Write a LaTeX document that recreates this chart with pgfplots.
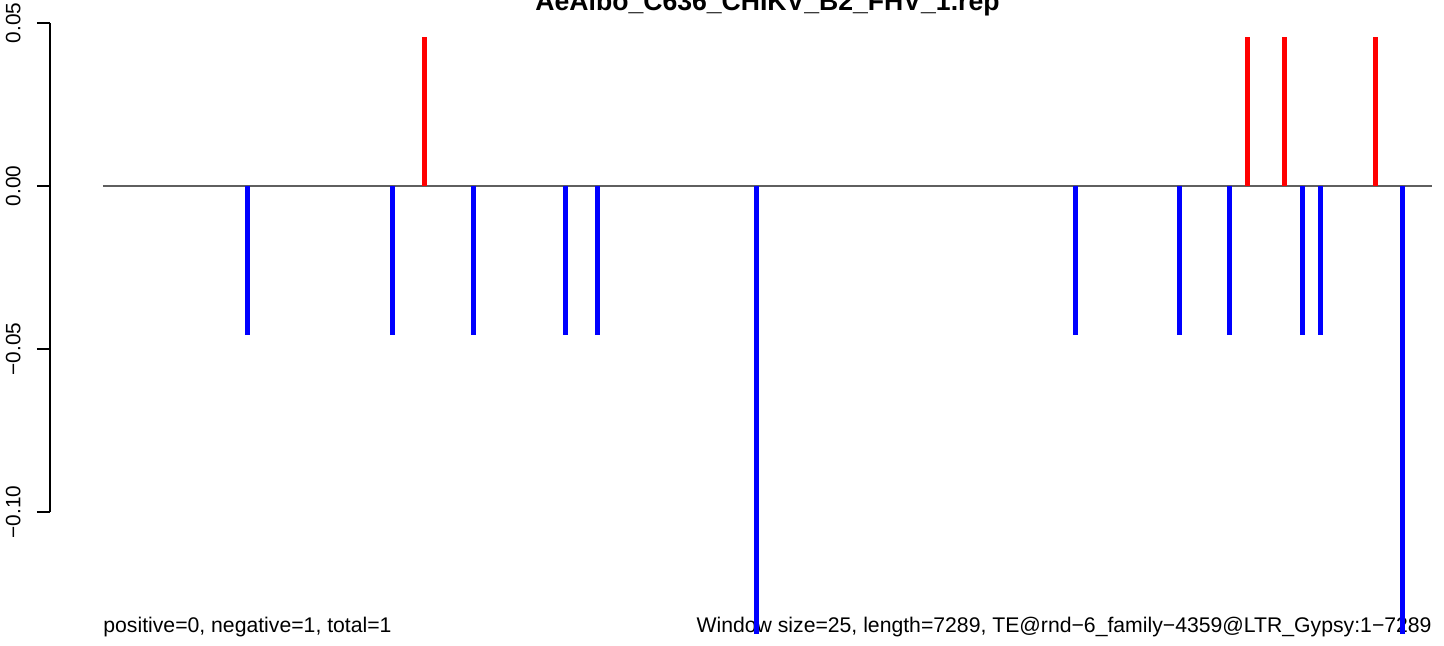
\documentclass[border=0pt]{standalone}
\usepackage{fontspec}
\setmainfont{Liberation Sans}
\usepackage{pgfplots}
\pgfplotsset{compat=1.18}
\definecolor{zl}{RGB}{95,95,95}
\definecolor{rblue}{RGB}{0,0,255}
\definecolor{rred}{RGB}{255,0,0}
\begin{document}
\begin{tikzpicture}
\useasboundingbox (0,0) rectangle (722pt,323pt);
\node[font=\bfseries\fontsize{13.3}{16}\selectfont, anchor=base, inner sep=0pt] at (383.75pt,317.5pt) {AeAlbo\_C636\_CHIKV\_B2\_FHV\_1.rep};
\node[font=\fontsize{10.6}{12}\selectfont, anchor=base west, inner sep=0pt] at (51.5pt,6.5pt) {positive=0, negative=1, total=1};
\node[font=\fontsize{10.6}{12}\selectfont, anchor=base east, inner sep=0pt] at (716pt,6.5pt) {Window size=25, length=7289, TE@rnd−6\_family−4359@LTR\_Gypsy:1−7289};
\begin{axis}[
  at={(25pt,1.8pt)}, anchor=south west,
  scale only axis, width=691pt, height=309.7pt,
  xmin=-289.6, xmax=7289, ymin=-0.14, ymax=0.05,
  clip=false,
  axis x line=none,
  axis y line=left,
  y axis line style={draw=none},
  ytick={-0.1,-0.05,0,0.05},
  yticklabels={−0.10,−0.05,0.00,0.05},
  tick align=outside,
  major tick length=6.5pt,
  ytick style={black, line width=0.6pt},
  yticklabel style={font=\fontsize{10.4}{12}\selectfont, xshift=-8pt, rotate=90, anchor=south, inner sep=0pt},
]
\addplot[black, line width=0.6pt] coordinates {(-289.6,-0.1) (-289.6,0.05)};
\addplot[zl, line width=0.6pt] coordinates {(1,0) (7289,0)};
\addplot[ycomb, rblue, line width=2.5pt, mark=none] coordinates {
(792,-0.0458) (1587,-0.0458) (2035,-0.0458) (2536,-0.0458) (2712,-0.0458)
(5333,-0.0458) (5903,-0.0458) (6177,-0.0458) (6578,-0.0458) (6676,-0.0458)
(3584,-0.1375) (7126,-0.1375)};
\addplot[ycomb, rred, line width=2.5pt, mark=none] coordinates {
(1763,0.0458) (6276,0.0458) (6479,0.0458) (6978,0.0458)};
\end{axis}
\end{tikzpicture}
\end{document}
